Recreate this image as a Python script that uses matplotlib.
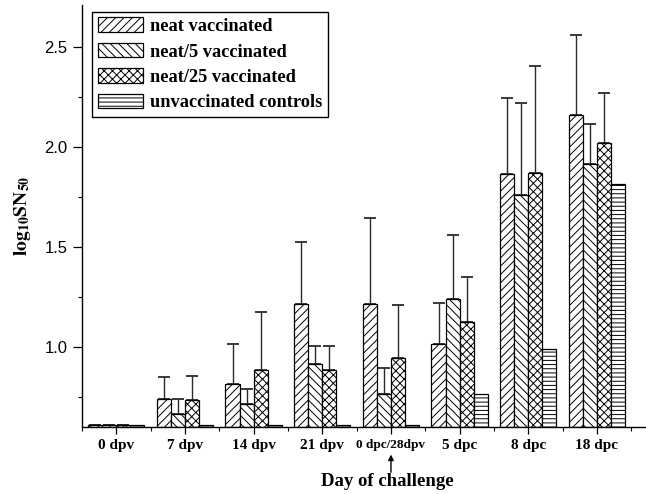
import numpy as np
import matplotlib
matplotlib.use("Agg")
import matplotlib.pyplot as plt
from matplotlib.ticker import FixedLocator

plt.rcParams["mathtext.fontset"] = "stix"
plt.rcParams["hatch.linewidth"] = 0.7

days = ["0 dpv", "7 dpv", "14 dpv", "21 dpv", "0 dpc/28dpv", "5 dpc", "8 dpc", "18 dpc"]
series = ["neat vaccinated", "neat/5 vaccinated", "neat/25 vaccinated", "unvaccinated controls"]

neat = [0.61, 0.737, 0.812, 1.212, 1.212, 1.012, 1.862, 2.16]
neat5 = [0.61, 0.663, 0.712, 0.912, 0.762, 1.237, 1.758, 1.912]
neat25 = [0.61, 0.732, 0.882, 0.883, 0.942, 1.122, 1.87, 2.02]
unvacc = [0.61, 0.61, 0.61, 0.61, 0.61, 0.762, 0.987, 1.812]

neat_top = [0.61, 0.85, 1.015, 1.525, 1.645, 1.217, 2.245, 2.558]
neat5_top = [0.61, 0.737, 0.789, 1.005, 0.895, 1.557, 2.22, 2.115]
neat25_top = [0.61, 0.855, 1.172, 1.005, 1.208, 1.347, 2.405, 2.27]

hatches = ["////", "\\\\\\\\", "xxxx", "----"]
values = [neat, neat5, neat25, unvacc]
tops = [neat_top, neat5_top, neat25_top, None]

fig = plt.figure(figsize=(6.46, 4.94), dpi=100)
ax = fig.add_axes([82 / 646, 1 - 426.7 / 494, 563 / 646, 421.7 / 494])

x = np.arange(len(days))
w = 0.205
base = 0.6
for i, (vals, h, lab) in enumerate(zip(values, hatches, series)):
    pos = x + (i - 1.5) * w
    v = np.array(vals)
    ax.bar(pos, v - base, bottom=base, width=w, color="white", edgecolor="black",
           linewidth=0.9, hatch=h, label=lab, zorder=2)
    if tops[i] is not None:
        t = np.array(tops[i])
        ax.errorbar(pos, v, yerr=[np.zeros_like(v), t - v], fmt="none",
                    ecolor="#2a2a2a", elinewidth=1.0, capsize=4, capthick=1.3, zorder=1)

ax.set_xlim(-0.5, 7.7)
ax.set_ylim(0.6, 2.71)
for s in ["top", "right"]:
    ax.spines[s].set_visible(False)
ax.spines["left"].set_linewidth(1.0)
ax.spines["bottom"].set_linewidth(1.0)

ax.yaxis.set_major_locator(FixedLocator([1.0, 1.5, 2.0, 2.5]))
ax.yaxis.set_minor_locator(FixedLocator([0.75, 1.25, 1.75, 2.25]))
ax.tick_params(axis="y", which="major", direction="out", length=6.5, width=0.9,
               labelsize=12, pad=4)
ax.tick_params(axis="y", which="minor", direction="out", length=3, width=0.8)
for lab in ax.get_yticklabels():
    lab.set_fontfamily("Liberation Sans")

ax.set_xticks(x)
ax.set_xticklabels(days)
ax.xaxis.set_minor_locator(FixedLocator(np.arange(-0.5, 8, 1.0)))
ax.tick_params(axis="x", which="major", direction="out", length=5, width=0.9, pad=4)
ax.tick_params(axis="x", which="minor", direction="out", length=3, width=0.8)
for i, lab in enumerate(ax.get_xticklabels()):
    lab.set_fontfamily("Liberation Serif")
    lab.set_fontweight("bold")
    lab.set_fontsize(9.5 if i == 4 else 11)

ax.set_ylabel(r"$\mathbf{log_{10}SN_{50}}$", fontsize=14, labelpad=8)

trans = ax.get_xaxis_transform()
ax.annotate("", xy=(4, -0.066), xytext=(4, -0.108), xycoords=trans, textcoords=trans,
            arrowprops=dict(arrowstyle="-|>", color="black", lw=1.0, mutation_scale=8,
                            shrinkA=0, shrinkB=0),
            annotation_clip=False)
ax.text(3.95, -0.13, "Day of challenge", transform=trans, ha="center", va="center",
        fontsize=13.5, fontweight="bold", family="Liberation Serif")

leg = ax.legend(loc="upper left", bbox_to_anchor=(92 / 646, 1 - 12 / 494),
                bbox_transform=fig.transFigure, borderaxespad=0, fancybox=False,
                framealpha=1, edgecolor="black", handlelength=2.5, handleheight=0.85,
                handletextpad=0.35, labelspacing=0.42, borderpad=0.3,
                prop={"family": "Liberation Serif", "weight": "bold", "size": 13.2})
leg.get_frame().set_linewidth(1.0)

fig.savefig("out.png", dpi=100)
